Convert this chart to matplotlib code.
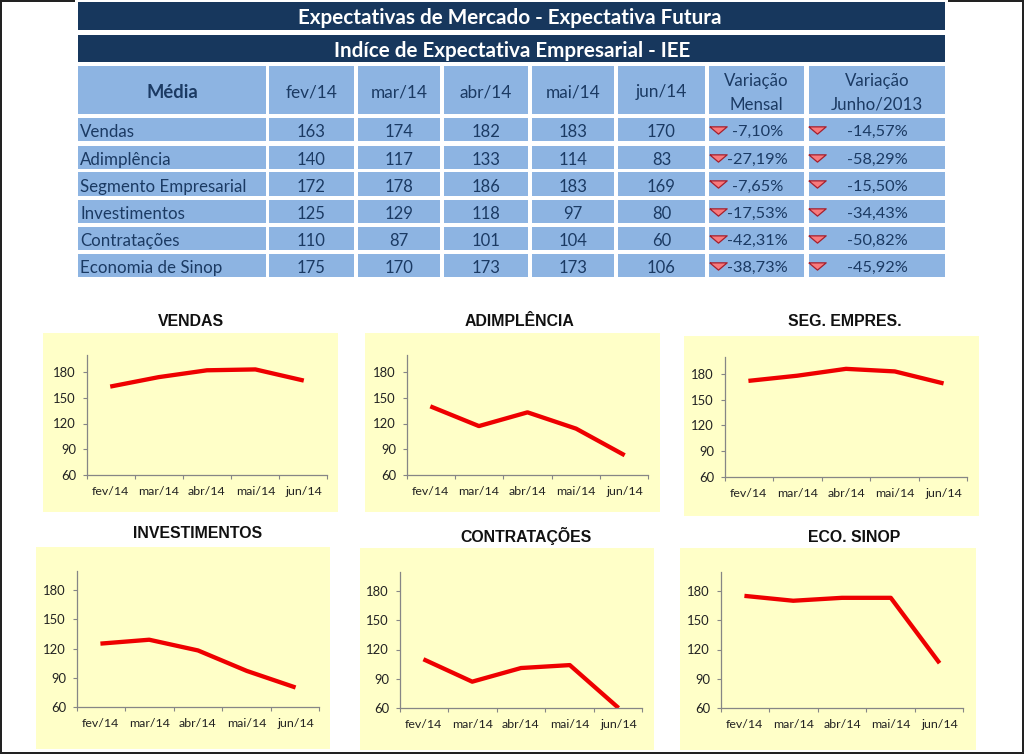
import matplotlib

matplotlib.use("Agg")

import matplotlib.pyplot as plt
from matplotlib.patches import Rectangle

WIDTH = 1024
HEIGHT = 754

months = ["fev/14", "mar/14", "abr/14", "mai/14", "jun/14"]
row_names = ["Vendas", "Adimplência", "Segmento Empresarial", "Investimentos", "Contratações", "Economia de Sinop"]
vendas = [163, 174, 182, 183, 170]
adimplencia = [140, 117, 133, 114, 83]
segmento = [172, 178, 186, 183, 169]
investimentos = [125, 129, 118, 97, 80]
contratacoes = [110, 87, 101, 104, 60]
economia = [175, 170, 173, 173, 106]
var_mensal = ["-7,10%", "-27,19%", "-7,65%", "-17,53%", "-42,31%", "-38,73%"]
var_junho = ["-14,57%", "-58,29%", "-15,50%", "-34,43%", "-50,82%", "-45,92%"]
chart_titles = ["VENDAS", "ADIMPLÊNCIA", "SEG. EMPRES.", "INVESTIMENTOS", "CONTRATAÇÕES", "ECO. SINOP"]
y_ticks = [60, 90, 120, 150, 180]

DARK = "#17375D"
BLUE = "#8DB4E2"
TEXT = "#1B3A63"
PANEL = "#FFFFC8"
AXIS = "#868686"

col_edges = [(78, 266), (269, 354), (358, 440), (444, 528), (532, 614), (618, 705), (709, 804), (809, 945)]
row_edges = [(118, 141), (146, 169), (172, 196), (200, 223), (227, 250), (254, 277)]

# panel box, axes left/right, pixel y of 60 and 180, title centre
chart_layout = [
    ((43, 338, 333, 512), 87, 327, 475, 372, (191, 321)),
    ((365, 660, 333, 512), 407, 648, 475, 372, (520, 321)),
    ((684, 979, 336, 516), 725, 967, 477, 374, (845, 321)),
    ((36, 330, 547, 749), 77, 319, 707, 590, (198, 534)),
    ((360, 654, 548, 750), 400, 642, 708, 591, (526, 536)),
    ((680, 976, 548, 750), 721, 963, 708, 591, (854, 537)),
]

plt.rcParams["font.family"] = "Lato"


def box(bg, x0, x1, y0, y1, color):
    bg.add_patch(Rectangle((x0, y0), x1 - x0, y1 - y0, facecolor=color, edgecolor="none"))


def draw_table(bg, rows):
    box(bg, 78, 945, 2, 30, DARK)
    box(bg, 78, 945, 35, 62, DARK)
    bg.text(510, 18.5, "Expectativas de Mercado - Expectativa Futura", color="white", fontsize=14.85,
            fontweight="bold", ha="center", va="center")
    bg.text(512, 51, "Indíce de Expectativa Empresarial - IEE", color="white", fontsize=14.85,
            fontweight="bold", ha="center", va="center")

    headers = ["Média"] + months
    for i, (x0, x1) in enumerate(col_edges):
        box(bg, x0, x1, 66, 114, BLUE)
        for y0, y1 in row_edges:
            box(bg, x0, x1, y0, y1, BLUE)
        if i < len(headers):
            bg.text((x0 + x1) / 2, 92.5, headers[i], color=TEXT, fontsize=13.2 if i == 0 else 12.4,
                    fontweight="bold" if i == 0 else "normal", ha="center", va="center")

    bg.text(756.5, 81, "Variação", color=TEXT, fontsize=12.2, ha="center", va="center")
    bg.text(756.5, 105, "Mensal", color=TEXT, fontsize=12.2, ha="center", va="center")
    bg.text(877, 81, "Variação", color=TEXT, fontsize=12.2, ha="center", va="center")
    bg.text(877, 105, "Junho/2013", color=TEXT, fontsize=12.2, ha="center", va="center")

    triangle = [(-1, 0.42), (1, 0.42), (0, -0.42), (-1, 0.42)]
    for r, (y0, y1) in enumerate(row_edges):
        yc = (y0 + y1) / 2
        bg.text(80, yc + 2.8, row_names[r], color=TEXT, fontsize=12.2, ha="left", va="center")
        for c, value in enumerate(rows[r]):
            x0, x1 = col_edges[c + 1]
            bg.text((x0 + x1) / 2, yc + 2.8, str(value), color=TEXT, fontsize=12, ha="center", va="center")
        bg.text(757.5, yc + 2.8, var_mensal[r], color=TEXT, fontsize=11.8, ha="center", va="center")
        bg.text(877, yc + 2.8, var_junho[r], color=TEXT, fontsize=11.8, ha="center", va="center")
        for x in (718, 817):
            bg.plot([x], [yc], marker=triangle, ms=12.5, color="#F87A7C", mec="#A5202E", mew=0.9)


def draw_chart(fig, bg, values, title, layout):
    (px0, px1, py0, py1), left, right, y60, y180, (tx, ty) = layout
    box(bg, px0, px1, py0, py1, PANEL)
    bg.text(tx, ty, title, color="#111111", fontsize=11.4, fontweight="bold", family="Liberation Sans",
            ha="center", va="center")

    # 200 is the top of the value axis in the reference
    y_top = y60 - (y60 - y180) * (200 - 60) / 120
    ax = fig.add_axes([left / WIDTH, 1 - y60 / HEIGHT, (right - left) / WIDTH, (y60 - y_top) / HEIGHT])
    ax.patch.set_alpha(0)
    x = list(range(len(months)))
    ax.plot(x, values, color="#EE0000", lw=3.1, solid_capstyle="butt", solid_joinstyle="round")
    ax.set_xlim(-0.48, 4.48)
    ax.set_ylim(60, 200)
    ax.set_yticks(y_ticks)
    ax.set_xticks([-0.48 + i * 4.96 / 5 for i in range(6)])
    ax.set_xticklabels([])
    ax.set_xticks(x, minor=True)
    ax.set_xticklabels(months, minor=True)
    ax.tick_params(axis="both", which="major", length=3, width=0.8, color=AXIS, labelsize=9.4,
                   labelcolor="#222222", pad=5)
    ax.tick_params(axis="x", which="minor", length=0, labelsize=8.9, labelcolor="#222222", pad=8)
    for side in ("top", "right"):
        ax.spines[side].set_visible(False)
    for side in ("left", "bottom"):
        ax.spines[side].set_color(AXIS)
        ax.spines[side].set_linewidth(0.9)


def main():
    fig = plt.figure(figsize=(WIDTH / 100, HEIGHT / 100), dpi=100, facecolor="white")
    bg = fig.add_axes([0, 0, 1, 1])
    bg.set_xlim(0, WIDTH)
    bg.set_ylim(HEIGHT, 0)
    bg.axis("off")

    # dark frame left over from the screenshot
    box(bg, 0, 1.5, 0, HEIGHT, "#222222")
    box(bg, 1022, WIDTH, 0, HEIGHT, "#222222")
    box(bg, 0, WIDTH, 752, HEIGHT, "#222222")
    box(bg, 0, 75, 0, 1.5, "#222222")
    box(bg, 948, WIDTH, 0, 1.5, "#222222")

    rows = [vendas, adimplencia, segmento, investimentos, contratacoes, economia]
    draw_table(bg, rows)

    for values, title, layout in zip(rows, chart_titles, chart_layout):
        draw_chart(fig, bg, values, title, layout)

    fig.savefig("out.png", dpi=100)
    plt.close(fig)


if __name__ == "__main__":
    main()
